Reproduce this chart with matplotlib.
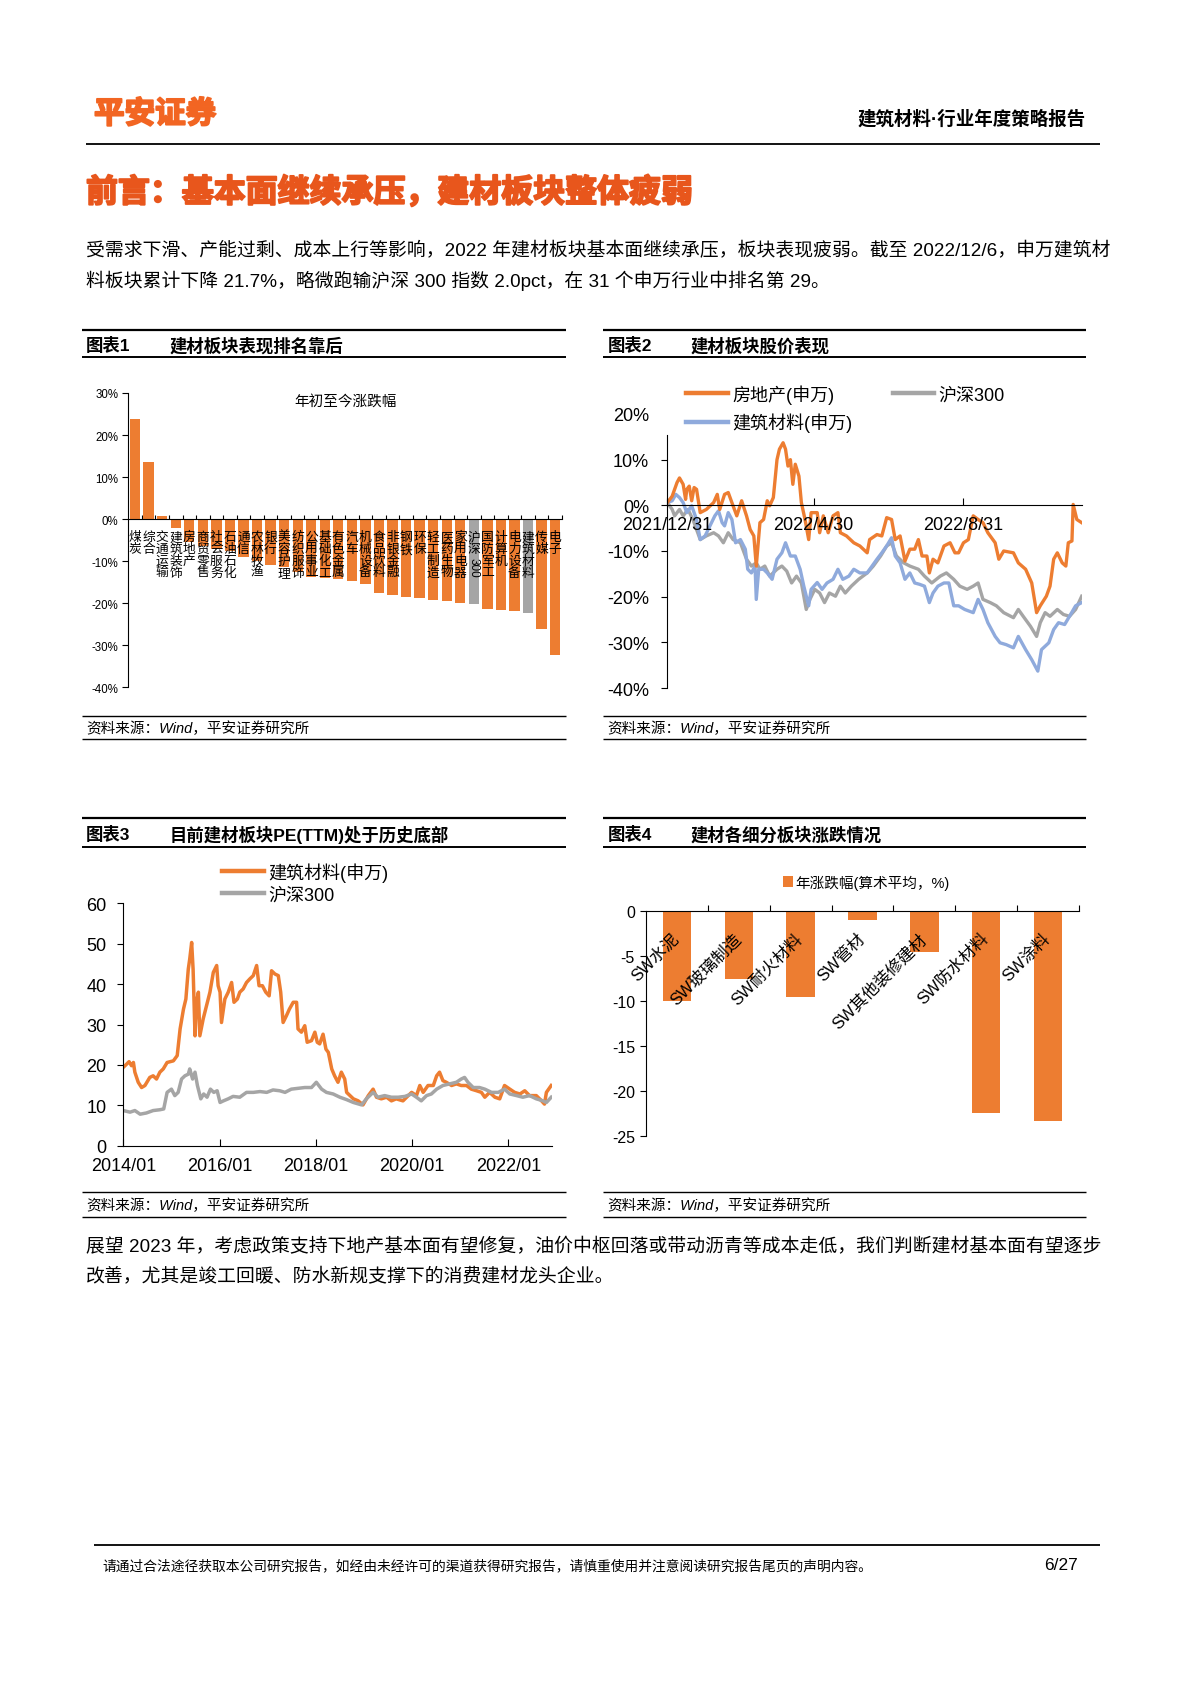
import numpy as np
import datetime as dt
import matplotlib
matplotlib.use('Agg')
import matplotlib.pyplot as plt
import matplotlib.patheffects as pe
from matplotlib.lines import Line2D

plt.rcParams['font.family'] = ['Liberation Sans', 'Noto Sans CJK SC']
plt.rcParams['axes.unicode_minus'] = False

# ---------------- data ----------------
# Chart 1: YTD change by Shenwan industry (%)
ind_names = ['煤炭', '综合', '交通运输', '建筑装饰', '房地产', '商贸零售', '社会服务', '石油石化',
             '通信', '农林牧渔', '银行', '美容护理', '纺织服饰', '公用事业', '基础化工', '有色金属',
             '汽车', '机械设备', '食品饮料', '非银金融', '钢铁', '环保', '轻工制造', '医药生物',
             '家用电器', '沪深300', '国防军工', '计算机', '电力设备', '建筑材料', '传媒', '电子']
ind_values = [23.8, 13.5, 0.7, -2.0, -5.5, -6.5, -7.0, -7.5,
              -9.1, -10.0, -10.8, -11.5, -12.5, -13.8, -13.9, -14.2,
              -14.8, -15.4, -17.6, -18.0, -18.6, -18.7, -19.2, -19.4,
              -20.0, -20.1, -21.4, -21.5, -21.8, -22.3, -26.1, -32.4]
ind_highlight = ['沪深300', '建筑材料']

# Chart 2: cumulative return since 2021/12/31 (%), x = days after 2021/12/31
re_days = [0, 4, 8, 10, 13, 15, 16, 18, 20, 22, 24, 27, 32, 38, 41, 43, 47, 50, 53, 57, 61, 65, 68, 71, 73,
           76, 79, 82, 84, 87, 90, 92, 95, 97, 99, 101, 103, 105, 108, 110, 113, 116, 118, 123, 125, 128,
           132, 136, 140, 142, 147, 153, 158, 164, 166, 172, 176, 180, 184, 187, 191, 195, 199, 203, 206,
           209, 213, 215, 218, 222, 227, 232, 236, 239, 243, 247, 251, 255, 259, 263, 269, 272, 276, 284,
           288, 294, 299, 303, 306, 311, 314, 317, 320, 324, 327, 329, 332, 333, 336, 340]
re_vals = [0.6, 2.0, 5.0, 6.0, 4.6, 1.3, 3.5, 4.2, 1.0, 3.9, 3.5, -1.6, -0.9, 0.6, 2.4, -0.9, 2.4, 2.8, 0.6,
           -2.3, 1.0, -2.3, -5.3, -6.7, -13.3, -3.8, -3.1, 1.0, -0.1, 1.7, 10.0, 12.3, 13.7, 12.3, 8.6,
           10.0, 4.6, 9.0, 6.4, 0.6, -3.1, -7.5, -1.6, -1.6, -6.0, -2.3, -6.0, -2.3, -1.6, -6.0, -6.7,
           -8.2, -8.9, -10.4, -7.5, -6.4, -6.7, -2.7, -3.1, -7.5, -6.7, -12.2, -9.6, -9.6, -7.5, -11.1,
           -11.1, -14.8, -11.8, -12.6, -8.9, -8.2, -10.4, -10.4, -8.2, -7.5, -2.3, -3.1, -3.8, -6.0, -8.2,
           -11.8, -10.0, -10.4, -12.6, -14.0, -17.0, -23.5, -22.0, -19.9, -17.7, -11.8, -10.4, -12.6,
           -13.3, -8.2, -7.8, 0.2, -3.1, -3.8]

hs_days = [0, 4, 6, 10, 13, 17, 21, 27, 32, 38, 42, 46, 50, 54, 60, 65, 69, 73, 76, 80, 84, 90, 94, 98,
           102, 106, 110, 114, 117, 121, 125, 129, 133, 138, 142, 146, 151, 157, 164, 169, 175, 180, 184,
           188, 194, 199, 206, 211, 217, 224, 229, 235, 240, 246, 251, 255, 259, 265, 270, 276, 284, 288,
           292, 298, 303, 306, 310, 314, 320, 325, 330, 335, 340]
hs_vals = [0.6, -0.9, -2.3, -0.9, -2.3, -0.9, -3.1, -7.5, -6.7, -6.0, -6.7, -8.2, -6.0, -7.5, -8.2, -11.8,
           -13.3, -12.6, -14.0, -13.3, -15.5, -14.0, -13.3, -14.4, -17.0, -15.5, -17.0, -22.8, -20.6,
           -18.4, -19.2, -21.3, -19.2, -19.9, -17.7, -19.2, -17.7, -16.2, -14.8, -13.3, -11.1, -8.9, -8.2,
           -11.1, -12.6, -13.3, -14.0, -15.5, -17.0, -15.5, -14.8, -16.2, -17.7, -18.4, -17.7, -17.0,
           -20.6, -21.3, -22.0, -23.5, -24.6, -22.8, -24.3, -26.5, -28.7, -25.7, -23.5, -24.3, -22.8,
           -23.9, -24.3, -22.8, -19.9]

bm_days = [0, 4, 7, 10, 13, 16, 20, 24, 27, 31, 35, 39, 42, 45, 47, 50, 53, 56, 60, 64, 66, 69, 72, 73,
           75, 79, 82, 86, 90, 94, 97, 101, 105, 109, 112, 116, 118, 123, 127, 131, 136, 140, 144, 149,
           153, 158, 164, 168, 172, 176, 180, 184, 187, 191, 195, 199, 203, 207, 211, 215, 218, 222, 227,
           231, 235, 239, 244, 251, 255, 259, 263, 269, 273, 278, 284, 288, 294, 299, 304, 307, 313, 317,
           321, 326, 330, 335, 340]
bm_vals = [0.6, 1.0, 2.4, 1.7, 0.6, -1.6, -0.1, -3.1, -7.5, -6.7, -4.5, -2.3, -1.2, -3.8, -4.5, -1.6,
           -3.1, -8.2, -7.5, -9.6, -14.0, -14.8, -13.3, -20.6, -14.0, -14.0, -14.8, -16.2, -11.8, -10.4,
           -8.2, -11.1, -11.1, -14.0, -17.7, -22.0, -18.4, -16.9, -18.4, -17.0, -16.2, -14.0, -16.2,
           -15.5, -14.0, -14.8, -14.8, -13.3, -11.8, -10.4, -8.9, -7.1, -11.1, -12.6, -16.2, -14.8,
           -17.0, -17.3, -17.7, -21.3, -19.2, -17.7, -17.0, -17.0, -22.0, -22.0, -22.8, -23.5, -20.6,
           -22.8, -25.7, -28.7, -30.1, -30.5, -31.2, -28.7, -31.6, -33.8, -36.3, -31.6, -30.1, -27.2,
           -25.7, -26.1, -24.3, -22.0, -21.3]

# Chart 3: PE(TTM), x = years after 2014/01
pe_bm_t = [0, .07, .12, .17, .21, .24, .31, .38, .45, .55, .62, .69, .76, .83, .91, 1.04, 1.12, 1.18, 1.25,
           1.30, 1.35, 1.38, 1.42, 1.45, 1.49, 1.52, 1.56, 1.59, 1.66, 1.73, 1.80, 1.87, 1.94, 1.97, 2.01,
           2.04, 2.11, 2.18, 2.25, 2.30, 2.37, 2.42, 2.49, 2.56, 2.63, 2.70, 2.77, 2.82, 2.89, 2.96, 3.03,
           3.08, 3.15, 3.22, 3.27, 3.32, 3.39, 3.45, 3.53, 3.60, 3.63, 3.70, 3.77, 3.82, 3.91, 3.98, 4.03,
           4.08, 4.15, 4.21, 4.26, 4.33, 4.39, 4.46, 4.53, 4.60, 4.64, 4.71, 4.78, 4.88, 4.98, 5.09, 5.19,
           5.26, 5.36, 5.47, 5.57, 5.67, 5.81, 5.92, 5.99, 6.09, 6.16, 6.23, 6.33, 6.44, 6.51, 6.57, 6.64,
           6.71, 6.82, 6.92, 7.02, 7.13, 7.23, 7.34, 7.44, 7.51, 7.61, 7.72, 7.82, 7.92, 8.03, 8.13, 8.24,
           8.34, 8.44, 8.58, 8.69, 8.75, 8.79, 8.89]
pe_bm = [19.4, 20.2, 20.8, 19.8, 20.6, 18.2, 15.7, 14.4, 14.9, 16.9, 17.3, 16.5, 18.2, 19.0, 20.6, 21.0,
         22.3, 28.9, 33.8, 36.3, 43.7, 46.2, 50.3, 43.7, 27.2, 35.5, 38.0, 27.2, 31.4, 34.7, 38.0, 42.9,
         44.6, 39.6, 38.0, 30.5, 36.3, 38.0, 40.4, 35.5, 36.3, 38.0, 38.8, 40.4, 41.3, 42.1, 44.6, 39.6,
         39.6, 38.0, 37.1, 43.3, 42.5, 42.1, 38.0, 30.5, 32.2, 33.8, 35.5, 35.5, 28.9, 28.1, 29.7, 25.6,
         26.0, 28.1, 25.6, 25.2, 27.6, 23.9, 23.1, 19.0, 17.3, 15.7, 18.2, 16.5, 13.2, 12.4, 11.6, 11.1,
         10.1, 12.4, 14.0, 12.0, 11.6, 12.0, 11.1, 11.6, 11.1, 12.4, 13.2, 12.4, 14.9, 13.2, 14.9, 14.9,
         17.3, 18.2, 16.1, 15.7, 14.9, 15.3, 14.9, 14.9, 14.0, 13.6, 13.2, 12.0, 13.2, 12.0, 11.6, 14.9,
         14.0, 13.2, 12.8, 13.6, 12.4, 12.4, 11.1, 10.3, 13.2, 14.9]
pe_hs_t = [0, .14, .24, .35, .48, .62, .76, .84, .91, 1.0, 1.07, 1.14, 1.21, 1.28, 1.35, 1.38, 1.44, 1.49,
           1.54, 1.61, 1.67, 1.74, 1.81, 1.88, 1.95, 2.01, 2.08, 2.18, 2.28, 2.42, 2.56, 2.70, 2.84, 2.98,
           3.11, 3.25, 3.36, 3.49, 3.63, 3.77, 3.91, 4.01, 4.12, 4.22, 4.36, 4.50, 4.64, 4.78, 4.95, 5.05,
           5.19, 5.29, 5.43, 5.57, 5.71, 5.85, 5.99, 6.09, 6.19, 6.30, 6.40, 6.51, 6.64, 6.78, 6.92, 7.02,
           7.09, 7.16, 7.27, 7.40, 7.51, 7.65, 7.79, 7.92, 8.03, 8.17, 8.30, 8.44, 8.58, 8.72, 8.79, 8.89]
pe_hs = [8.7, 8.3, 8.7, 7.8, 8.1, 8.7, 8.9, 9.1, 13.2, 14.0, 12.4, 13.2, 16.5, 17.3, 17.7, 19.0, 16.5, 18.2,
         14.9, 11.6, 12.8, 12.0, 14.0, 13.2, 13.6, 10.7, 11.1, 11.6, 12.2, 12.0, 13.2, 13.2, 13.4, 13.2,
         13.8, 13.6, 13.2, 14.0, 14.2, 14.4, 14.4, 15.7, 14.0, 13.2, 12.8, 12.0, 11.4, 10.7, 10.1, 11.6,
         13.2, 12.0, 12.4, 12.0, 12.0, 12.2, 12.8, 12.0, 11.1, 12.4, 12.8, 14.0, 14.9, 15.3, 15.7, 16.5,
         16.9, 15.7, 14.4, 14.4, 14.0, 13.2, 13.2, 14.0, 12.8, 12.4, 12.0, 12.4, 11.6, 11.1, 10.7, 12.0]
pe_ticks = [2014, 2016, 2018, 2020, 2022]

# Chart 4: sub-sector change (%)
sub_names = ['SW水泥', 'SW玻璃制造', 'SW耐火材料', 'SW管材', 'SW其他装修建材', 'SW防水材料', 'SW涂料']
sub_values = [-10.0, -7.5, -9.5, -1.0, -4.5, -22.5, -23.4]

ORANGE = '#ED7D31'
GRAY = '#A5A5A5'
BLUE = '#8FAADC'

# ---------------- page ----------------
W, H = 1189, 1683
fig = plt.figure(figsize=(W / 100, H / 100), dpi=100)


def fx(x):
    return x / W


def fy(y):
    return 1 - y / H


def hline(x0, x1, y, lw, color='black'):
    fig.add_artist(Line2D([fx(x0), fx(x1)], [fy(y), fy(y)], transform=fig.transFigure,
                          color=color, lw=lw, solid_capstyle='butt'))


def ftext(x, y, s, **kw):
    kw.setdefault('va', 'center')
    return fig.text(fx(x), fy(y), s, **kw)


t = ftext(94, 116, '平安证券', fontsize=22, fontweight='black', color='#F26522')
t.set_path_effects([pe.withStroke(linewidth=1.4, foreground='#F26522')])
ftext(1086, 119, '建筑材料·行业年度策略报告', fontsize=13.3, fontweight='bold', ha='right')
hline(86, 1100, 145, 1.3)
t = ftext(86, 194, '前言：基本面继续承压，建材板块整体疲弱', fontsize=23, fontweight='black', color='#E8561C')
t.set_path_effects([pe.withStroke(linewidth=1.4, foreground='#E8561C')])

para_fs = 13.55
ftext(86, 251, '受需求下滑、产能过剩、成本上行等影响，2022 年建材板块基本面继续承压，板块表现疲弱。截至 2022/12/6，申万建筑材',
      fontsize=para_fs)
ftext(86, 281, '料板块累计下降 21.7%，略微跑输沪深 300 指数 2.0pct，在 31 个申万行业中排名第 29。', fontsize=para_fs)

panels = [((81.5, 565.5), 330.5, 345.5, 358.4, 716.8, 728.6, 740.4, '图表1', '建材板块表现排名靠后'),
          ((603, 1086), 330.5, 345.5, 358.4, 716.8, 728.6, 740.4, '图表2', '建材板块股价表现'),
          ((81.5, 565.5), 818.8, 834.9, 847.7, 1193.3, 1206, 1218, '图表3', '目前建材板块PE(TTM)处于历史底部'),
          ((603, 1086), 818.8, 834.9, 847.7, 1193.3, 1206, 1218, '图表4', '建材各细分板块涨跌情况')]
for (x0, x1), yt, yh, yb, ys, yst, ysb, lab, ttl in panels:
    hline(x0, x1, yt, 1.6)
    ftext(x0 + 4.5, yh, lab, fontsize=12.5, fontweight='bold')
    ftext(x0 + 88, yh, ttl, fontsize=12.5, fontweight='bold')
    hline(x0, x1, yb, 1.4)
    hline(x0, x1, ys, 1.0)
    ftext(x0 + 4.5, yst, '资料来源：Wind，平安证券研究所', fontsize=10.5, style='italic')
    hline(x0, x1, ysb, 1.0)

# ---------------- chart 1 ----------------
ax1 = fig.add_axes([128.3 / W, (H - 688.3) / H, 433.6 / W, 294.3 / H])
n1 = len(ind_names)
x1 = np.arange(n1)
cols1 = [GRAY if nm in ind_highlight else ORANGE for nm in ind_names]
ax1.bar(x1, ind_values, width=0.76, color=cols1, zorder=2)
ax1.set_xlim(-0.5, n1 - 0.5)
ax1.set_ylim(-40, 30)
for s in ['top', 'right']:
    ax1.spines[s].set_visible(False)
ax1.spines['bottom'].set_position(('data', 0))
ax1.spines['bottom'].set_zorder(3)
ax1.set_xticks(np.arange(n1) + 0.5)
ax1.set_xticklabels([])
ax1.tick_params(axis='x', direction='in', length=3)
yt1 = list(range(-40, 31, 10))
ax1.set_yticks(yt1)
ax1.set_yticklabels([f'{v}%' for v in yt1], fontsize=8.3)
ax1.tick_params(axis='y', direction='out', length=4, pad=3)
ax1.text(0.5, 0.975, '年初至今涨跌幅', transform=ax1.transAxes, ha='center', va='center', fontsize=10.5)
for i, nm in enumerate(ind_names):
    if nm == '沪深300':
        ax1.annotate('沪\n深', xy=(i, 0), xytext=(0, -8.5), textcoords='offset points', ha='center',
                     va='top', fontsize=9.2, linespacing=0.98, zorder=4)
        ax1.annotate('300', xy=(i, 0), xytext=(0, -27), textcoords='offset points', ha='center',
                     va='top', fontsize=8.5, rotation=-90, zorder=4)
    else:
        ax1.annotate('\n'.join(nm), xy=(i, 0), xytext=(0, -8.5), textcoords='offset points',
                     ha='center', va='top', fontsize=9.2, linespacing=0.98, zorder=4)

# ---------------- chart 2 ----------------
ax2 = fig.add_axes([667.3 / W, (H - 689) / H, 414.4 / W, 274 / H])
ax2.set_axisbelow(False)
base = dt.date(2021, 12, 31)
to_dates = lambda ds: [base + dt.timedelta(days=d) for d in ds]
l_hs, = ax2.plot(to_dates(hs_days), hs_vals, color=GRAY, lw=2.4, label='沪深300')
l_bm, = ax2.plot(to_dates(bm_days), bm_vals, color=BLUE, lw=2.4, label='建筑材料(申万)')
l_re, = ax2.plot(to_dates(re_days), re_vals, color=ORANGE, lw=2.4, label='房地产(申万)')
ax2.set_xlim(base, base + dt.timedelta(days=340))
ax2.set_ylim(-40, 20)
for s in ['top', 'right']:
    ax2.spines[s].set_visible(False)
ax2.spines['bottom'].set_position(('data', 0))
ax2.spines['left'].set_bounds(-40, 15.5)
tick_dates = [dt.date(2021, 12, 31), dt.date(2022, 4, 30), dt.date(2022, 8, 31)]
ax2.set_xticks(tick_dates)
ax2.set_xticklabels([f'{d.year}/{d.month}/{d.day}' for d in tick_dates], fontsize=13)
ax2.tick_params(axis='x', direction='in', length=5, pad=8)
yt2 = list(range(-40, 21, 10))
ax2.set_yticks(yt2)
ax2.set_yticklabels([f'{v}%' for v in yt2], fontsize=13)
ax2.tick_params(axis='y', direction='out', length=4, pad=9)
ax2.yaxis.get_major_ticks()[-1].tick1line.set_visible(False)
ax2.legend(handles=[l_re, l_bm, l_hs], loc='upper left', bbox_to_anchor=(fx(686), fy(385)),
           bbox_transform=fig.transFigure, ncol=2, frameon=False, fontsize=13, handlelength=2.3,
           handletextpad=0.25, columnspacing=2.25, labelspacing=0.5, borderpad=0, borderaxespad=0)
for lh in ax2.get_legend().get_lines():
    lh.set_linewidth(3.2)

# ---------------- chart 3 ----------------
ax3 = fig.add_axes([123.3 / W, (H - 1146.7) / H, 428.4 / W, 242.4 / H])
l_pb, = ax3.plot(2014 + np.array(pe_bm_t), pe_bm, color=ORANGE, lw=2.5, label='建筑材料(申万)')
l_ph, = ax3.plot(2014 + np.array(pe_hs_t), pe_hs, color=GRAY, lw=2.5, label='沪深300')
ax3.set_xlim(2014, 2022.9)
ax3.set_ylim(0, 60)
for s in ['top', 'right']:
    ax3.spines[s].set_visible(False)
ax3.set_xticks(pe_ticks)
ax3.set_xticklabels([f'{y}/01' for y in pe_ticks], fontsize=13)
ax3.tick_params(axis='x', direction='in', length=5, pad=8)
ax3.set_yticks(range(0, 61, 10))
ax3.tick_params(axis='y', direction='out', length=4, pad=8, labelsize=13)
ax3.legend(handles=[l_pb, l_ph], loc='upper left', bbox_to_anchor=(fx(222), fy(863)),
           bbox_transform=fig.transFigure, frameon=False, fontsize=13, handlelength=2.3,
           handletextpad=0.25, labelspacing=0.25, borderpad=0, borderaxespad=0)
for lh in ax3.get_legend().get_lines():
    lh.set_linewidth(3.2)

# ---------------- chart 4 ----------------
ax4 = fig.add_axes([646 / W, (H - 1136.7) / H, 433 / W, 224.4 / H])
n4 = len(sub_names)
ax4.bar(np.arange(n4), sub_values, width=0.46, color=ORANGE, label='年涨跌幅(算术平均，%)', zorder=2)
ax4.set_xlim(-0.5, n4 - 0.5)
ax4.set_ylim(-25, 0)
for s in ['bottom', 'right']:
    ax4.spines[s].set_visible(False)
ax4.xaxis.tick_top()
ax4.set_xticks(np.arange(n4) + 0.5)
ax4.set_xticklabels([])
ax4.tick_params(axis='x', direction='out', length=4)
yt4 = list(range(-25, 1, 5))
ax4.set_yticks(yt4)
ax4.set_yticklabels([str(v) for v in yt4], fontsize=11.5)
ax4.tick_params(axis='y', direction='out', length=4, pad=4)
for i, nm in enumerate(sub_names):
    ax4.text(i - 0.09, -2.1, nm, rotation=45, rotation_mode='anchor', ha='right', va='top',
             fontsize=12, zorder=4)
ax4.legend(loc='center left', bbox_to_anchor=(fx(783), fy(883)), bbox_transform=fig.transFigure,
           frameon=False, fontsize=10.5, handlelength=0.7, handleheight=0.7, handletextpad=0.15,
           borderpad=0, borderaxespad=0)

# ---------------- bottom text ----------------
ftext(86, 1247, '展望 2023 年，考虑政策支持下地产基本面有望修复，油价中枢回落或带动沥青等成本走低，我们判断建材基本面有望逐步',
      fontsize=para_fs)
ftext(86, 1277, '改善，尤其是竣工回暖、防水新规支撑下的消费建材龙头企业。', fontsize=para_fs)

hline(94, 1100, 1546, 1.3)
ftext(102, 1566, '请通过合法途径获取本公司研究报告，如经由未经许可的渠道获得研究报告，请慎重使用并注意阅读研究报告尾页的声明内容。',
      fontsize=9.9)
ftext(1078, 1566, '6/27', fontsize=12.5, ha='right')

fig.savefig('out.png', dpi=100)
